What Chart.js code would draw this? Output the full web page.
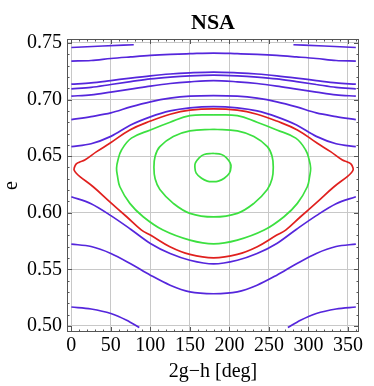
<!DOCTYPE html>
<html><head><meta charset="utf-8">
<script src="https://cdn.jsdelivr.net/npm/chart.js@4"></script>
<style>html,body{margin:0;padding:0;background:#fff}canvas{display:block}</style>
</head><body><canvas id="c" width="374" height="386"></canvas>
<script>
// ---- tick labels ----
const xTicks = [0, 50, 100, 150, 200, 250, 300, 350];
const yTicks = [0.50, 0.55, 0.60, 0.65, 0.70, 0.75];

// ---- blue (circulating) curves: [angle, e] ----
const seg1L = [[0,0.7460],[40,0.7473],[79,0.7484]];
const seg1R = [[281,0.7484],[320,0.7473],[360,0.7460]];
const c2 = [[0,0.7340],[25,0.7345],[50,0.7363],[75,0.7377],[100,0.7390],[125,0.7399],[150,0.7405],[180,0.7411],[210,0.7405],[235,0.7399],[260,0.7390],[285,0.7377],[310,0.7363],[335,0.7345],[360,0.7340]];
const c3a = [[0,0.7136],[25,0.7147],[50,0.7168],[75,0.7190],[100,0.7210],[125,0.7226],[150,0.7236],[180,0.7243],[210,0.7236],[235,0.7226],[260,0.7210],[285,0.7190],[310,0.7168],[335,0.7147],[360,0.7136]];
const c3b = [[0,0.7095],[25,0.7108],[50,0.7133],[75,0.7158],[100,0.7183],[125,0.7199],[150,0.7210],[180,0.7216],[210,0.7210],[235,0.7199],[260,0.7183],[285,0.7158],[310,0.7133],[335,0.7108],[360,0.7095]];
const c3c = [[0,0.7030],[25,0.7042],[50,0.7066],[75,0.7092],[100,0.7119],[125,0.7142],[150,0.7157],[180,0.7168],[210,0.7157],[235,0.7142],[260,0.7119],[285,0.7092],[310,0.7066],[335,0.7042],[360,0.7030]];
const c4 = [[0,0.6823],[25,0.6850],[50,0.6882],[75,0.6935],[100,0.6980],[125,0.7012],[150,0.7030],[180,0.7035],[210,0.7030],[235,0.7012],[260,0.6980],[285,0.6935],[310,0.6882],[335,0.6850],[360,0.6823]];
const c5 = [[0,0.6584],[25,0.6610],[50,0.6675],[75,0.6775],[100,0.6847],[125,0.6900],[150,0.6927],[180,0.6938],[210,0.6927],[235,0.6900],[260,0.6847],[285,0.6775],[310,0.6675],[335,0.6610],[360,0.6584]];
const c6 = [[0,0.6142],[25,0.6080],[50,0.5975],[75,0.5855],[100,0.5729],[125,0.5640],[150,0.5581],[180,0.5548],[210,0.5581],[235,0.5640],[260,0.5729],[285,0.5855],[310,0.5975],[335,0.6080],[360,0.6142]];
const c7 = [[0,0.5723],[25,0.5702],[50,0.5641],[75,0.5550],[100,0.5449],[125,0.5360],[150,0.5301],[180,0.5285],[210,0.5301],[235,0.5360],[260,0.5449],[285,0.5550],[310,0.5641],[335,0.5702],[360,0.5723]];
const c8L = [[0,0.5168],[25,0.5150],[50,0.5110],[70,0.5050],[86,0.4986]];
const c8R = [[274,0.4986],[290,0.5050],[310,0.5110],[335,0.5150],[360,0.5168]];

// ---- red separatrix ----
const sepRed = [[3.5,0.6393],[5.7,0.6428],[10,0.6447],[17,0.6466],[32,0.6540],[48.7,0.6614],[74,0.6732],[100,0.6810],[125,0.6870],[150,0.6906],[180,0.6918],
  [210,0.6906],[235,0.6870],[260,0.6810],[286,0.6732],[311.3,0.6614],[328,0.6540],[343,0.6466],[350,0.6447],[354.3,0.6428],[356.5,0.6393],[356.5,0.6378],
  [354.3,0.6354],[349.2,0.6320],[332.4,0.6230],[311.3,0.6097],[290,0.5965],[271.2,0.5847],[260,0.5803],[235.3,0.5700],[210,0.5632],[180,0.5602],
  [150,0.5632],[124.7,0.5700],[100,0.5803],[88.8,0.5847],[70,0.5965],[48.7,0.6097],[27.6,0.6230],[10.8,0.6320],[5.7,0.6354],[3.5,0.6378],[3.5,0.6393]];

// ---- green librating curves ----
const libOuter = [[180,0.6865],[150,0.6858],[125,0.6800],[100,0.6732],[76,0.6659],[63.5,0.6555],[59,0.6466],[57.2,0.6393],[58.5,0.6320],[61.4,0.6230],[74,0.6083],[90.9,0.5965],[116,0.5847],[150,0.5758],[180,0.5725],
  [210,0.5758],[244,0.5847],[269.1,0.5965],[286,0.6083],[298.6,0.6230],[301.5,0.6320],[302.8,0.6393],[301,0.6466],[296.5,0.6555],[284,0.6659],[260,0.6732],[235,0.6800],[210,0.6858],[180,0.6865]];
const libMid = [[180,0.6738],[150,0.6723],[129,0.6673],[112,0.6584],[106,0.6500],[104.5,0.6400],[106,0.6300],[112,0.6205],[129,0.6083],[150,0.5995],[180,0.5963],
  [210,0.5995],[231,0.6083],[248,0.6205],[254,0.6300],[255.5,0.6400],[254,0.6500],[248,0.6584],[231,0.6673],[210,0.6723],[180,0.6738]];
const libInner = [[179,0.6526],[168,0.6515],[162,0.6488],[157,0.6440],[156.3,0.6405],[158,0.6350],[164.8,0.6305],[172,0.6280],[179,0.6275],[186,0.6280],[193.5,0.6305],[200,0.6350],[202,0.6405],[201,0.6440],[196,0.6488],[190,0.6515],[179,0.6526]];

const BLUE = '#5526dc', RED = '#e0201e', GREEN = '#3ce040';
const FONT = "'Liberation Serif','Times New Roman',serif";

function ds(pts, color, open) {
  return {
    data: pts.map(p => ({x: p[0], y: p[1]})),
    borderColor: color, borderWidth: 1.7, showLine: true, pointRadius: 0,
    fill: false,
    tension: open ? 0 : 0.4,
    cubicInterpolationMode: open ? 'monotone' : 'default'
  };
}

const datasets = [
  ds(seg1L, BLUE, true), ds(seg1R, BLUE, true), ds(c2, BLUE, true), ds(c3a, BLUE, true),
  ds(c3b, BLUE, true), ds(c3c, BLUE, true), ds(c4, BLUE, true), ds(c5, BLUE, true),
  ds(c6, BLUE, true), ds(c7, BLUE, true), ds(c8L, BLUE, true), ds(c8R, BLUE, true),
  ds(sepRed, RED, false), ds(libOuter, GREEN, false), ds(libMid, GREEN, false), ds(libInner, GREEN, false)
];

const framePlugin = {
  id: 'frame',
  afterDraw(chart) {
    const {ctx, chartArea: a, scales: {x, y}} = chart;
    ctx.save();
    ctx.strokeStyle = '#555'; ctx.lineWidth = 1;
    ctx.strokeRect(a.left + 0.5, a.top + 0.5, a.right - a.left - 1, a.bottom - a.top - 1);
    ctx.beginPath();
    for (let v = 0; v <= 360; v += 10) {
      const px = Math.round(x.getPixelForValue(v)) + 0.5;
      const L = (v % 50 === 0) ? 5 : 2.5;
      ctx.moveTo(px, a.bottom); ctx.lineTo(px, a.bottom - L);
      ctx.moveTo(px, a.top); ctx.lineTo(px, a.top + L);
    }
    for (let k = 50; k <= 75; k++) {
      const v = k / 100;
      const py = Math.round(y.getPixelForValue(v)) + 0.5;
      const L = (k % 5 === 0) ? 5 : 2.5;
      ctx.moveTo(a.left, py); ctx.lineTo(a.left + L, py);
      ctx.moveTo(a.right, py); ctx.lineTo(a.right - L, py);
    }
    ctx.stroke();
    ctx.fillStyle = '#000';
    ctx.font = "bold 22px " + FONT;
    ctx.textAlign = 'center'; ctx.textBaseline = 'middle';
    ctx.fillText('NSA', (a.left + a.right) / 2, 23);
    ctx.restore();
  }
};

new Chart(document.getElementById('c'), {
  type: 'scatter',
  data: {datasets},
  plugins: [framePlugin],
  options: {
    responsive: false, devicePixelRatio: 1, animation: false,
    layout: {padding: {top: 39, right: 15, bottom: 0, left: 0}},
    plugins: {legend: {display: false}, tooltip: {enabled: false}, title: {display: false}},
    scales: {
      x: {
        type: 'linear', min: -5.5, max: 364, position: 'bottom',
        afterBuildTicks: s => { s.ticks = xTicks.map(v => ({value: v})); },
        afterFit: s => { s.height = 54; },
        grid: {color: '#c8c8c8', lineWidth: 1, drawTicks: false},
        border: {display: false},
        ticks: {color: '#000', font: {family: FONT, size: 20}, padding: 2, maxRotation: 0, autoSkip: false,
          callback: v => String(v)},
        title: {display: true, text: '2g\u2212h [deg]', color: '#000', font: {family: FONT, size: 20}, padding: {top: 0, bottom: 2}}
      },
      y: {
        type: 'linear', min: 0.4947, max: 0.7535,
        afterBuildTicks: s => { s.ticks = yTicks.map(v => ({value: v})); },
        afterFit: s => { s.width = 67; },
        grid: {color: '#c8c8c8', lineWidth: 1, drawTicks: false},
        border: {display: false},
        ticks: {color: '#000', font: {family: FONT, size: 20}, padding: 5, autoSkip: false,
          callback: v => v.toFixed(2)},
        title: {display: true, text: 'e', color: '#000', font: {family: FONT, size: 20}, padding: {top: 0, bottom: 0}}
      }
    }
  }
});
</script></body></html>
